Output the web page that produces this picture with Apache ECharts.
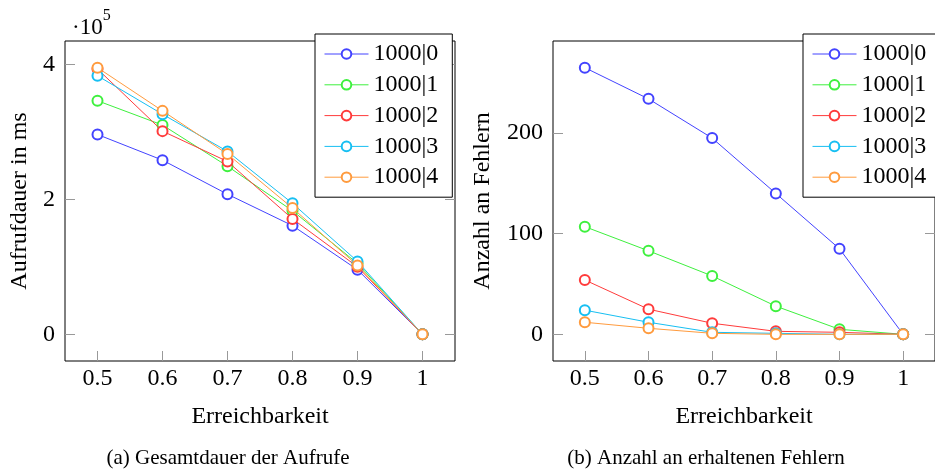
<!DOCTYPE html>
<html>
<head>
<meta charset="utf-8">
<script src="https://cdn.jsdelivr.net/npm/echarts@6/dist/echarts.min.js"></script>
<style>
html,body{margin:0;padding:0;background:#fff;}
#chart{width:935px;height:473px;}
</style>
</head>
<body>
<div id="chart"></div>
<script>
// ---- data ----
const availability = [0.5, 0.6, 0.7, 0.8, 0.9, 1];
const seriesNames = ['1000|0', '1000|1', '1000|2', '1000|3', '1000|4'];
// total call duration in ms
const dur0 = [296000, 258000, 207500, 161000, 95700, 0];
const dur1 = [346000, 310000, 249000, 183000, 105000, 0];
const dur2 = [393000, 301000, 256000, 171000, 100000, 0];
const dur3 = [383000, 326000, 271000, 194000, 108000, 0];
const dur4 = [395000, 331000, 267000, 187000, 102000, 0];
// number of received errors
const err0 = [265, 234, 195, 140, 85, 0];
const err1 = [107, 83, 58, 28, 5, 0];
const err2 = [54, 25, 11, 3, 2, 0];
const err3 = [24, 12, 2, 1, 0, 0];
const err4 = [12, 6, 1, 0, 0, 0];
const xTicks = [0.5, 0.6, 0.7, 0.8, 0.9, 1];
const durTicks = [0, 200000, 400000];
const errTicks = [0, 100, 200];

const colors = ['#4343ff', '#3ef03e', '#ff3b3b', '#17bff2', '#ff9b3e'];
const FONT = 'Liberation Serif';
const durData = [dur0, dur1, dur2, dur3, dur4];
const errData = [err0, err1, err2, err3, err4];

function pairs(ys) { return availability.map((x, i) => [x, ys[i]]); }

const chart = echarts.init(document.getElementById('chart'), null, {renderer: 'canvas'});

function xAxis(gridIndex) {
  return {
    type: 'value', gridIndex, min: 0.45, max: 1.05, position: 'bottom',
    name: 'Erreichbarkeit', nameLocation: 'middle', nameGap: 44,
    nameTextStyle: {fontFamily: FONT, fontSize: 24, color: '#000'},
    axisLine: {show: false, onZero: false},
    splitLine: {show: false},
    axisTick: {show: true, inside: true, length: 10, customValues: xTicks, lineStyle: {color: '#999'}},
    axisLabel: {margin: 6, fontFamily: FONT, fontSize: 24, color: '#000', customValues: xTicks,
      formatter: v => String(Math.round(v * 10) / 10)}
  };
}
function yAxis(gridIndex, min, max, ticks, fmt, name, nameGap, pos, showLabel) {
  return {
    type: 'value', gridIndex, min, max, position: pos,
    name: name, nameLocation: 'middle', nameGap: nameGap, nameRotate: 90,
    nameTextStyle: {fontFamily: FONT, fontSize: 24, color: '#000'},
    axisLine: {show: false, onZero: false},
    splitLine: {show: false},
    axisTick: {show: true, inside: true, length: 10, customValues: ticks, lineStyle: {color: '#999'}},
    axisLabel: {show: showLabel, margin: 10, fontFamily: FONT, fontSize: 24, color: '#000', customValues: ticks, formatter: fmt}
  };
}

const series = [];
seriesNames.forEach((n, i) => {
  series.push({
    name: n, type: 'line', xAxisIndex: 0, yAxisIndex: 0, data: pairs(durData[i]),
    symbol: 'emptyCircle', symbolSize: 10, color: colors[i],
    lineStyle: {width: 1, color: colors[i]}, itemStyle: {color: colors[i], borderWidth: 1}, z: 2 + i
  });
});
seriesNames.forEach((n, i) => {
  series.push({
    name: n, type: 'line', xAxisIndex: 1, yAxisIndex: 2, data: pairs(errData[i]),
    symbol: 'emptyCircle', symbolSize: 10, color: colors[i],
    lineStyle: {width: 1, color: colors[i]}, itemStyle: {color: colors[i], borderWidth: 1}, z: 2 + i
  });
});

function legend(left, top) {
  return {
    orient: 'vertical', left, top, data: seriesNames,
    itemWidth: 44, itemHeight: 12, itemGap: 6.8,
    padding: [8, 14, 8, 9],
    backgroundColor: '#fff', borderColor: '#000', borderWidth: 1,
    itemStyle: {borderWidth: 1},
    lineStyle: {width: 1},
    textStyle: {fontFamily: FONT, fontSize: 24, color: '#000'},
    selectedMode: false, z: 10
  };
}

chart.setOption({
  animation: false,
  backgroundColor: '#fff',
  grid: [
    {left: 65, top: 41, width: 390, height: 320, show: true, borderColor: '#000', borderWidth: 1, backgroundColor: 'transparent'},
    {left: 553, top: 41, width: 390, height: 320, show: true, borderColor: '#000', borderWidth: 1, backgroundColor: 'transparent'}
  ],
  xAxis: [xAxis(0), xAxis(1)],
  yAxis: [
    yAxis(0, -39500, 434500, durTicks, v => String(v / 100000), 'Aufrufdauer in ms', 33, 'left', true),
    yAxis(0, -39500, 434500, durTicks, v => '', '', 0, 'right', false),
    yAxis(1, -26.5, 291.5, errTicks, v => String(v), 'Anzahl an Fehlern', 58, 'left', true),
    yAxis(1, -26.5, 291.5, errTicks, v => '', '', 0, 'right', false)
  ],
  legend: [legend(315, 34), legend(803, 34)],
  series,
  graphic: [
    {type: 'text', left: 72, top: 8, style: {
      text: '{a|·10}{b|5}', rich: {
        a: {fontFamily: FONT, fontSize: 23, fill: '#000', padding: [8, 0, 0, 0]},
        b: {fontFamily: FONT, fontSize: 16, fill: '#000', verticalAlign: 'top'}
      }}},
    {type: 'text', x: 228, y: 458, style: {text: '(a) Gesamtdauer der Aufrufe', fontFamily: FONT, fontSize: 21, fill: '#000', align: 'center', verticalAlign: 'middle'}},
    {type: 'text', x: 706, y: 458, style: {text: '(b) Anzahl an erhaltenen Fehlern', fontFamily: FONT, fontSize: 21, fill: '#000', align: 'center', verticalAlign: 'middle'}}
  ]
});
</script>
</body>
</html>
